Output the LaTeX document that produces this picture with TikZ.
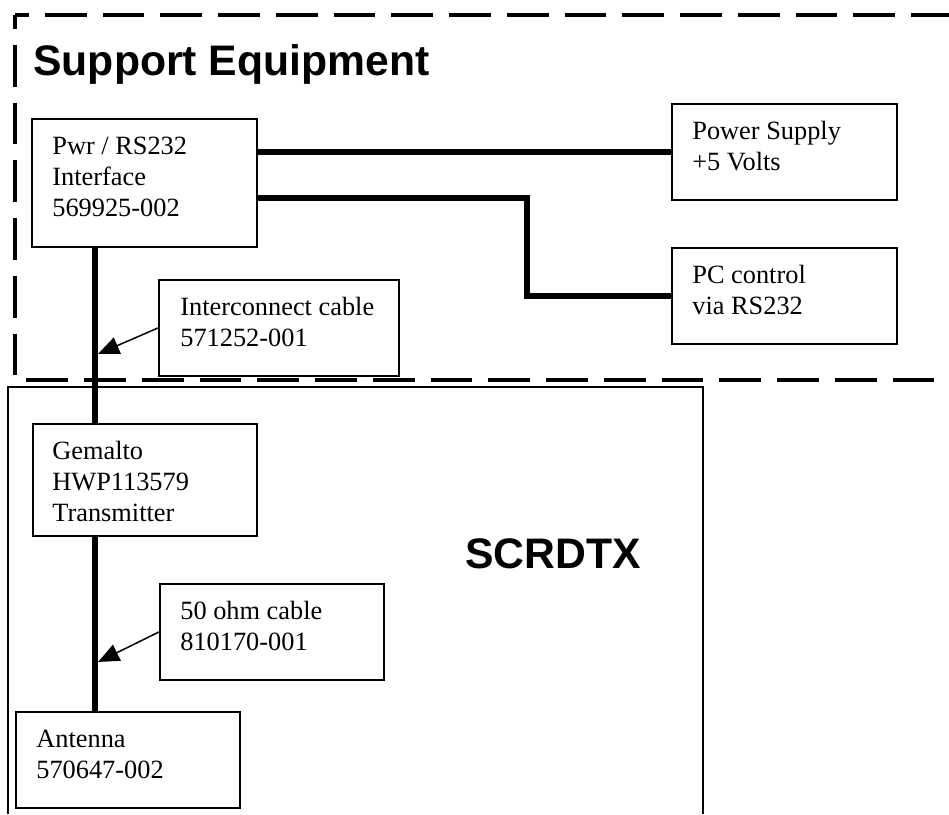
\documentclass[tikz,border=0pt]{standalone}
\usepackage{fontspec}
\setmainfont{Liberation Serif}
\newfontfamily\arialfont{Liberation Sans}
\usetikzlibrary{arrows.meta,calc}
\begin{document}
\begin{tikzpicture}[x=0.02cm,y=-0.02cm,
  boxnode/.style={draw,line width=1.1pt,inner sep=0pt,anchor=north west},
  txt/.style={anchor=north west,inner sep=0pt,align=left,font=\fontsize{15}{17.6}\selectfont},
  titletext/.style={anchor=base west,inner sep=0pt,font=\arialfont\bfseries\fontsize{24.3}{29}\selectfont},
  wire/.style={line width=3.2pt},
  dashline/.style={line width=2.6pt,dash pattern=on 23.8pt off 9.07pt,dash phase=15.9pt},
  arr/.style={line width=0.85pt,-{Triangle[length=12pt,width=10pt]}},
  framebox/.style={line width=1.1pt}]
\useasboundingbox (0,0) rectangle (949,814);

% dashed support-equipment outline
\draw[dashline] (15,15) -- (15,380) -- (949,380);
\draw[dashline] (15,15) -- (949,15);

% SCRDTX outline
\draw[framebox] (8,814) -- (8,387) -- (703,387) -- (703,814);

% titles
\node[titletext] (se) at (33,76) {Support Equipment};
\node[titletext] (scr) at (465,568) {SCRDTX};

% boxes
\node[boxnode,minimum width=4.5cm,minimum height=2.56cm] (pwr) at (31,118) {};
\node[boxnode,minimum width=4.5cm,minimum height=1.92cm] (ps) at (671,103) {};
\node[boxnode,minimum width=4.5cm,minimum height=1.92cm] (pc) at (671,247) {};
\node[boxnode,minimum width=4.8cm,minimum height=1.92cm] (ic) at (158,279) {};
\node[boxnode,minimum width=4.48cm,minimum height=2.24cm] (gem) at (32,423) {};
\node[boxnode,minimum width=4.48cm,minimum height=1.92cm] (ohm) at (159,583) {};
\node[boxnode,minimum width=4.48cm,minimum height=1.92cm] (ant) at (15,711) {};

% box texts
\node[txt] (tpwr) at ($(pwr.north west)+(21,14.83)$) {\rule{0pt}{12pt}Pwr / RS232\\Interface\\569925-002};
\node[txt] (tps) at ($(ps.north west)+(21,14.83)$) {\rule{0pt}{12pt}Power Supply\\+5 Volts};
\node[txt] (tpc) at ($(pc.north west)+(21,14.83)$) {\rule{0pt}{12pt}PC control\\via RS232};
\node[txt] (tic) at ($(ic.north west)+(22,14.83)$) {\rule{0pt}{12pt}Interconnect cable\\571252-001};
\node[txt] (tgem) at ($(gem.north west)+(20,14.83)$) {\rule{0pt}{12pt}Gemalto\\HWP113579\\Transmitter};
\node[txt] (tohm) at ($(ohm.north west)+(21,14.83)$) {\rule{0pt}{12pt}50 ohm cable\\810170-001};
\node[txt] (tant) at ($(ant.north west)+(21,14.83)$) {\rule{0pt}{12pt}Antenna\\570647-002};

% wires
\coordinate (vx) at (95,0);
\draw[wire] (vx |- pwr.south) -- (vx |- gem.north);
\draw[wire] (vx |- gem.south) -- (vx |- ant.north);
\draw[wire] (ps.west -| pwr.east) -- (ps.west);
\coordinate (bend) at (527,198);
\draw[wire] (bend -| pwr.east) -- (bend) |- (pc.west);

% cable callouts
\coordinate (a1) at (98,354);
\draw[arr] (ic.west) -- (a1);
\coordinate (a2) at (98,662);
\draw[arr] (ohm.west) -- (a2);
\end{tikzpicture}
\end{document}
